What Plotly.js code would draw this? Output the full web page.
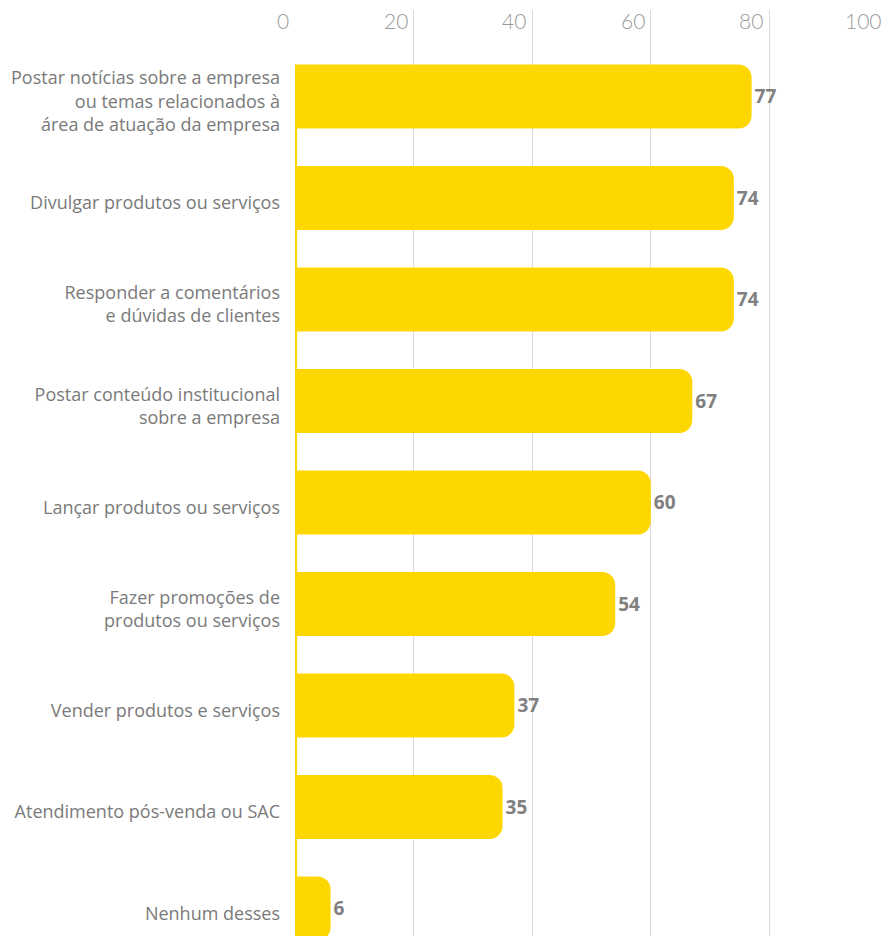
<!DOCTYPE html>
<html><head><meta charset="utf-8">
<script src="https://cdn.plot.ly/plotly-3.0.1.min.js"></script>
<style>html,body{margin:0;padding:0;overflow:hidden;background:#fff}</style>
</head><body>
<div id="chart"></div>
<script>
const categories = [
  "Postar notícias sobre a empresa<br>ou temas relacionados à<br>área de atuação da empresa",
  "Divulgar produtos ou serviços",
  "Responder a comentários<br>e dúvidas de clientes",
  "Postar conteúdo institucional<br>sobre a empresa",
  "Lançar produtos ou serviços",
  "Fazer promoções de<br>produtos ou serviços",
  "Vender produtos e serviços",
  "Atendimento pós-venda ou SAC",
  "Nenhum desses"
];
const values = [77, 74, 74, 67, 60, 54, 37, 35, 6];
const xTicks = [0, 20, 40, 60, 80, 100];

const yellow = "#FFD700";
const trace = {
  type: "bar",
  orientation: "h",
  x: values,
  y: categories,
  marker: {color: yellow, cornerradius: 13},
  text: values.map(String),
  textposition: "outside",
  textfont: {family: "Open Sans, sans-serif", size: 19, color: "#808080", weight: "bold"},
  cliponaxis: false,
  hoverinfo: "none"
};
const tickAnnotations = xTicks.map(v => ({
  x: v, xref: "x", y: 1, yref: "paper", yanchor: "top", yshift: 4,
  xanchor: "right", xshift: -4, showarrow: false, text: String(v),
  font: {family: "Lato, sans-serif", size: 21, color: "#9a9a9a", weight: 300}
}));
const layout = {
  width: 895, height: 936,
  margin: {l: 295, r: 7, t: 10, b: 0},
  paper_bgcolor: "#fff", plot_bgcolor: "#fff",
  showlegend: false,
  bargap: 0.37,
  font: {family: "Open Sans, sans-serif"},
  xaxis: {
    side: "top", range: [0, 100], tickvals: xTicks, showticklabels: false,
    showgrid: true, gridcolor: "#d9d9d9", gridwidth: 1, zeroline: false,
    ticks: "", showline: false, fixedrange: true
  },
  yaxis: {
    type: "category", range: [8.271, -0.852], showgrid: false, zeroline: false,
    tickfont: {family: "Open Sans, sans-serif", size: 18, color: "#7a7a7a"},
    ticks: "", ticklabelstandoff: 14, ticklabelshift: -5, fixedrange: true
  },
  annotations: tickAnnotations,
  shapes: [{
    type: "rect", layer: "below", xref: "x", yref: "y",
    x0: 0, x1: 0.35, y0: 0, y1: categories.length - 1,
    fillcolor: yellow, line: {width: 0}
  }]
};
Plotly.newPlot("chart", [trace], layout, {displayModeBar: false, staticPlot: true});
</script>
</body></html>
